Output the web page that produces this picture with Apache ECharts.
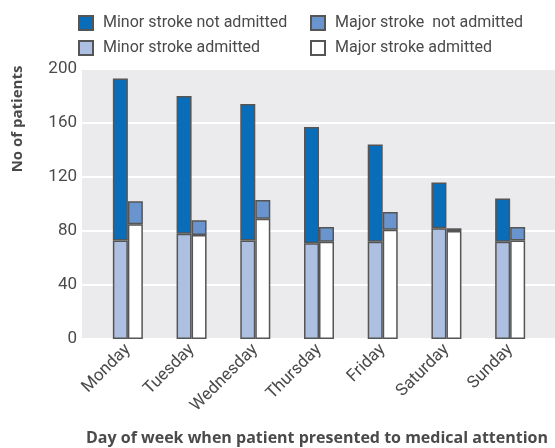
<!DOCTYPE html>
<html>
<head>
<meta charset="utf-8">
<script src="https://cdn.jsdelivr.net/npm/echarts@6/dist/echarts.min.js"></script>
<style>
  html, body { margin: 0; padding: 0; background: #fff; }
  #chart { width: 555px; height: 448px; }
</style>
</head>
<body>
<div id="chart"></div>
<script>
// values
const days = ['Monday', 'Tuesday', 'Wednesday', 'Thursday', 'Friday', 'Saturday', 'Sunday'];
const minorAdmitted = [73, 78, 73, 71, 72, 82, 72];
const minorNotAdmitted = [120, 102, 101, 86, 72, 34, 32];
const majorAdmitted = [85, 77, 89, 72, 81, 80, 73];
const majorNotAdmitted = [17, 11, 14, 11, 13, 2, 10];
const yTicks = [0, 40, 80, 120, 160, 200];

const FONT = 'Roboto';
const TITLE_FONT = 'Open Sans';
const TXT = '#4a4a4a';
const BORDER = '#555';

const names = {
  minorNA: 'Minor stroke not admitted',
  majorNA: 'Major stroke  not admitted',
  minorA: 'Minor stroke admitted',
  majorA: 'Major stroke admitted'
};

const chart = echarts.init(document.getElementById('chart'));

const legendBase = {
  orient: 'horizontal',
  padding: 0,
  itemWidth: 14,
  itemHeight: 14,
  itemGap: 0,
  icon: 'rect',
  textStyle: { fontFamily: FONT, fontSize: 16, color: TXT, padding: [0, 0, 0, 5] },
  selectedMode: false
};

const option = {
  animation: false,
  backgroundColor: '#fff',
  legend: [
    Object.assign({}, legendBase, { left: 78, top: 15, data: [names.minorNA] }),
    Object.assign({}, legendBase, { left: 310, top: 15, data: [names.majorNA] }),
    Object.assign({}, legendBase, { left: 78, top: 40, data: [names.minorA] }),
    Object.assign({}, legendBase, { left: 310, top: 40, data: [names.majorA] })
  ],
  grid: [
    // grey panel with gridlines
    { left: 82, right: 0, top: 69, bottom: 109, show: true, backgroundColor: '#ebebee', borderWidth: 0 },
    // bars
    { left: 96, right: 13, top: 69, bottom: 109 }
  ],
  xAxis: [
    { gridIndex: 0, type: 'value', show: false, min: 0, max: 1 },
    {
      gridIndex: 1,
      type: 'category',
      data: days,
      axisLine: { show: false },
      axisTick: { show: false },
      axisLabel: {
        rotate: 45,
        margin: 8,
        fontFamily: FONT,
        fontSize: 17,
        color: TXT
      }
    }
  ],
  yAxis: [
    {
      gridIndex: 0,
      type: 'value',
      min: yTicks[0],
      max: yTicks[yTicks.length - 1],
      interval: 40,
      axisLine: { show: false },
      axisTick: { show: false },
      axisLabel: { fontFamily: FONT, fontSize: 17, color: TXT, margin: 5 },
      splitLine: { lineStyle: { color: '#fff', width: 2 } }
    },
    { gridIndex: 1, type: 'value', min: 0, max: 200, show: false }
  ],
  series: [
    {
      name: names.minorA, type: 'bar', stack: 'minor', xAxisIndex: 1, yAxisIndex: 1,
      data: minorAdmitted, barWidth: 15, barGap: '0%',
      itemStyle: { color: '#aec0e2', borderColor: BORDER, borderWidth: 1.5 }
    },
    {
      name: names.minorNA, type: 'bar', stack: 'minor', xAxisIndex: 1, yAxisIndex: 1,
      data: minorNotAdmitted, barWidth: 15, barGap: '0%',
      itemStyle: { color: '#0a6db9', borderColor: BORDER, borderWidth: 1.5 }
    },
    {
      name: names.majorA, type: 'bar', stack: 'major', xAxisIndex: 1, yAxisIndex: 1,
      data: majorAdmitted, barWidth: 15, barGap: '0%',
      itemStyle: { color: '#ffffff', borderColor: BORDER, borderWidth: 1.5 }
    },
    {
      name: names.majorNA, type: 'bar', stack: 'major', xAxisIndex: 1, yAxisIndex: 1,
      data: majorNotAdmitted, barWidth: 15, barGap: '0%',
      itemStyle: { color: '#6a94cd', borderColor: BORDER, borderWidth: 1.5 }
    }
  ],
  graphic: [
    {
      type: 'text',
      x: 18,
      y: 119,
      rotation: Math.PI / 2,
      style: {
        text: 'No of patients',
        fontFamily: TITLE_FONT,
        fontWeight: 'bold',
        fontSize: 15,
        fill: TXT,
        align: 'center',
        verticalAlign: 'middle'
      }
    },
    {
      type: 'text',
      x: 317,
      y: 438,
      style: {
        text: 'Day of week when patient presented to medical attention',
        fontFamily: TITLE_FONT,
        fontWeight: 'bold',
        fontSize: 16,
        fill: TXT,
        align: 'center',
        verticalAlign: 'middle'
      }
    }
  ]
};

chart.setOption(option);
</script>
</body>
</html>
